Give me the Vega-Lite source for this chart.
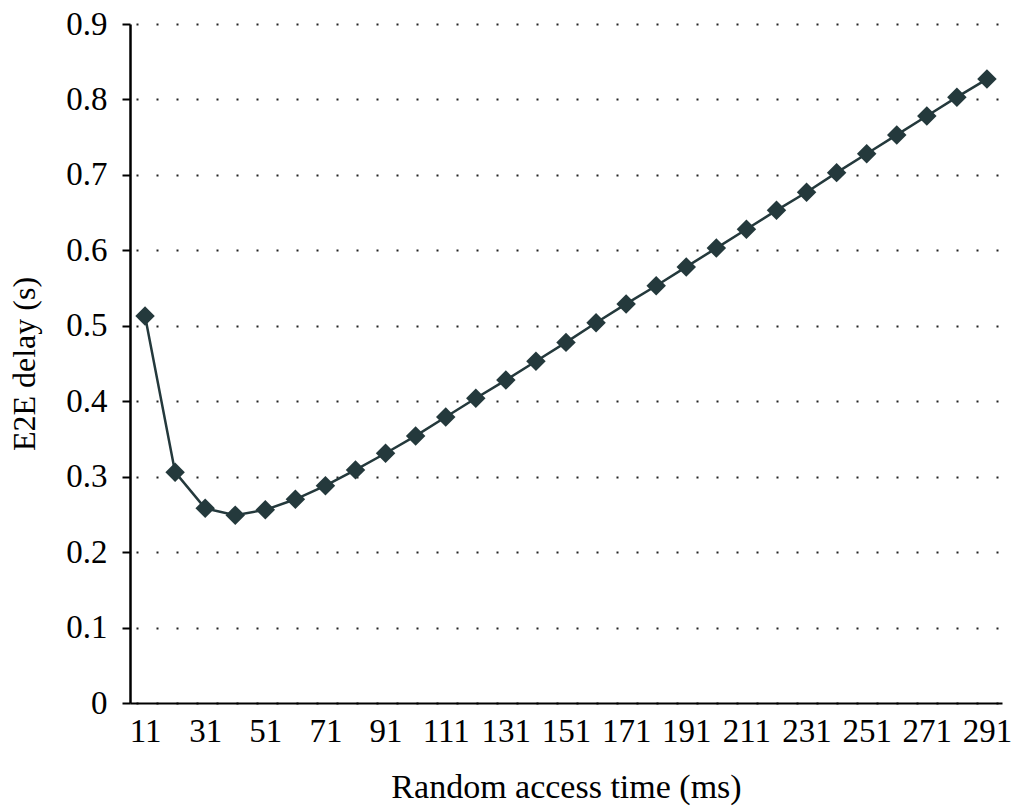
{
  "$schema": "https://vega.github.io/schema/vega-lite/v6.json",
  "autosize": "none",
  "width": 872,
  "height": 679,
  "padding": {"left": 130, "top": 24, "right": 14, "bottom": 107},
  "background": "white",
  "config": {
    "view": {"stroke": null},
    "font": "Liberation Serif",
    "axis": {"labelFont": "Liberation Serif", "titleFont": "Liberation Serif", "labelColor": "#000", "titleColor": "#000", "titleFontWeight": "normal"}
  },
  "data": {
    "values": [
      {"t": 11, "d": 0.513}, {"t": 21, "d": 0.306}, {"t": 31, "d": 0.258}, {"t": 41, "d": 0.249},
      {"t": 51, "d": 0.256}, {"t": 61, "d": 0.270}, {"t": 71, "d": 0.288}, {"t": 81, "d": 0.309},
      {"t": 91, "d": 0.331}, {"t": 101, "d": 0.354}, {"t": 111, "d": 0.379}, {"t": 121, "d": 0.404},
      {"t": 131, "d": 0.428}, {"t": 141, "d": 0.453}, {"t": 151, "d": 0.478}, {"t": 161, "d": 0.504},
      {"t": 171, "d": 0.529}, {"t": 181, "d": 0.553}, {"t": 191, "d": 0.578}, {"t": 201, "d": 0.603},
      {"t": 211, "d": 0.628}, {"t": 221, "d": 0.653}, {"t": 231, "d": 0.677}, {"t": 241, "d": 0.703},
      {"t": 251, "d": 0.728}, {"t": 261, "d": 0.753}, {"t": 271, "d": 0.778}, {"t": 281, "d": 0.803},
      {"t": 291, "d": 0.827}
    ]
  },
  "encoding": {
    "x": {
      "field": "t", "type": "ordinal", "sort": null,
      "axis": {
        "title": "Random access time (ms)", "titleFontSize": 34, "titlePadding": 22,
        "labelFontSize": 33, "labelAngle": 0, "labelPadding": 12,
        "values": [11, 31, 51, 71, 91, 111, 131, 151, 171, 191, 211, 231, 251, 271, 291],
        "ticks": false, "domainColor": "#000", "domainWidth": 2, "grid": false
      }
    },
    "y": {
      "field": "d", "type": "quantitative",
      "scale": {"domain": [0, 0.9], "nice": false, "zero": true},
      "axis": {
        "title": "E2E delay (s)", "titleFontSize": 32, "titlePadding": 24,
        "labelFontSize": 33, "labelPadding": 15,
        "values": [0, 0.1, 0.2, 0.3, 0.4, 0.5, 0.6, 0.7, 0.8, 0.9],
        "labelExpr": "datum.value == 0 ? '0' : format(datum.value, '.1f')",
        "tickSize": 8, "tickWidth": 2, "tickColor": "#000",
        "domainColor": "#000", "domainWidth": 2.5,
        "grid": true, "gridColor": "#222", "gridWidth": 2, "gridDash": [2, 18], "gridDashOffset": -6
      }
    }
  },
  "layer": [
    {"mark": {"type": "line", "color": "#24393c", "strokeWidth": 2.5}},
    {"mark": {"type": "point", "shape": "diamond", "filled": true, "opacity": 1, "color": "#24393c", "size": 380}}
  ]
}
